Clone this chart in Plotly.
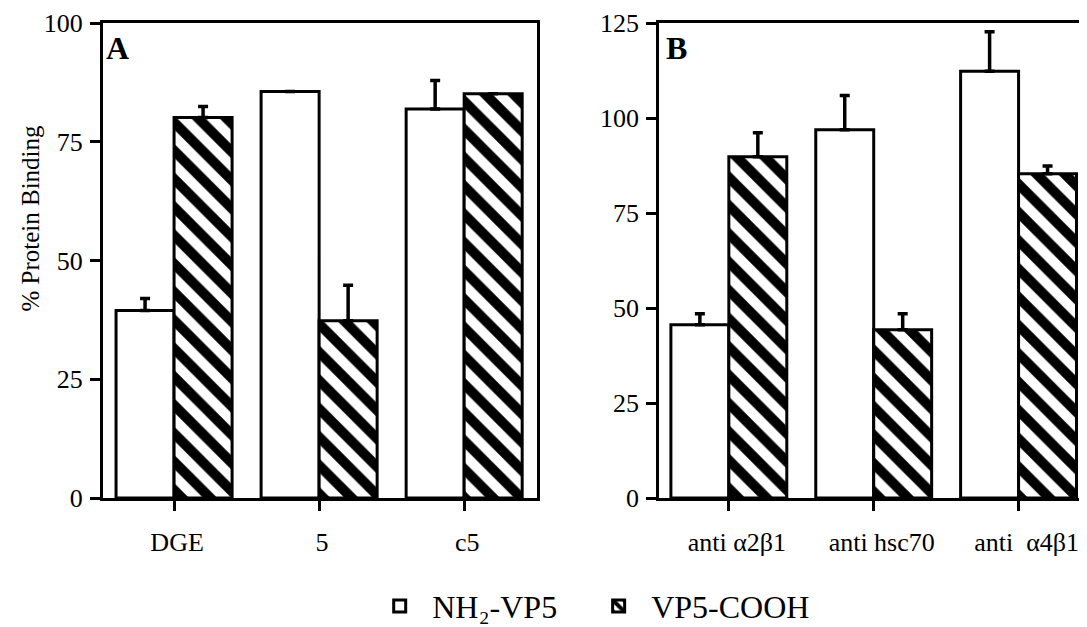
import plotly.graph_objects as go

# ---- data ----
cats_a = ["DGE", "5", "c5"]
cats_b = ["anti \u03b12\u03b21", "anti hsc70", "anti\u00a0 \u03b14\u03b21"]

nh2_a = [39.5, 85.6, 81.9]
nh2_a_err = [2.5, 0, 6.0]
cooh_a = [80.1, 37.3, 85.1]
cooh_a_err = [2.3, 7.5, 0]

nh2_b = [45.6, 96.9, 112.3]
nh2_b_err = [2.9, 9.0, 10.4]
cooh_b = [89.8, 44.3, 85.3]
cooh_b_err = [6.3, 4.2, 2.1]

series_names = ["NH\u2082-VP5\u00a0\u00a0\u00a0", "VP5-COOH"]
yticks_a = [0, 25, 50, 75, 100]
yticks_b = [0, 25, 50, 75, 100, 125]

FONT = "Liberation Serif"
BLACK = "black"

fig = go.Figure()

def add_pair(xref, yref, cats, w_vals, w_err, h_vals, h_err, show):
    xs = list(range(len(cats)))
    fig.add_trace(go.Bar(
        x=xs, y=w_vals, name=series_names[0], legendgroup="w", showlegend=show,
        xaxis=xref, yaxis=yref, offsetgroup="w",
        marker=dict(color="white", line=dict(color=BLACK, width=3)),
        error_y=dict(type="data", symmetric=False, array=w_err, arrayminus=[0]*len(w_err),
                     color=BLACK, thickness=3.5, width=5),
    ))
    fig.add_trace(go.Bar(
        x=xs, y=h_vals, name=series_names[1], legendgroup="h", showlegend=show,
        xaxis=xref, yaxis=yref, offsetgroup="h",
        marker=dict(color="white", line=dict(color=BLACK, width=3),
                    pattern=dict(shape="\\", size=20, solidity=0.5,
                                 fgcolor=BLACK, bgcolor="white", fgopacity=1,
                                 fillmode="overlay")),
        error_y=dict(type="data", symmetric=False, array=h_err, arrayminus=[0]*len(h_err),
                     color=BLACK, thickness=3.5, width=5),
    ))

add_pair("x", "y", cats_a, nh2_a, nh2_a_err, cooh_a, cooh_a_err, True)
add_pair("x2", "y2", cats_b, nh2_b, nh2_b_err, cooh_b, cooh_b_err, False)

L, R, T, B = 95, 1, 15, 133
W, H = 1087, 627
pw = W - L - R
ph = H - T - B

def xd(px0, px1):
    return [(px0 - L) / pw, (px1 - L) / pw]

axis_common = dict(showline=True, linewidth=3, linecolor=BLACK, mirror=True,
                   showgrid=False, zeroline=False, ticks="outside",
                   tickwidth=3, tickcolor=BLACK, ticklen=10,
                   tickfont=dict(family=FONT, size=26, color=BLACK))

fig.update_layout(
    width=W, height=H,
    margin=dict(l=L, r=R, t=T, b=B),
    paper_bgcolor="white", plot_bgcolor="white",
    barmode="group", bargap=0.2, bargroupgap=0,
    font=dict(family=FONT, color=BLACK),
    xaxis=dict(domain=xd(95, 530), range=[-0.49, 2.5], tickvals=[0, 1, 2],
               ticktext=cats_a, ticklabelstandoff=9, ticklabelshift=3, anchor="y",
               **axis_common),
    yaxis=dict(domain=[0, 1], range=[0, 100], tickvals=yticks_a, anchor="x",
               ticklabelstandoff=2, **axis_common),
    xaxis2=dict(domain=xd(653, 1086), range=[-0.48, 2.5], tickvals=[0, 1, 2],
                ticktext=cats_b, ticklabelstandoff=9, ticklabelshift=8, anchor="y2",
                **axis_common),
    yaxis2=dict(domain=[0, 1], range=[0, 125], tickvals=yticks_b, anchor="x2",
                ticklabelstandoff=2, **axis_common),
    legend=dict(orientation="h", x=(360 - L) / pw, xanchor="left",
                y=(494 - 603) / ph, yanchor="middle",
                font=dict(family=FONT, size=32, color=BLACK), bgcolor="rgba(0,0,0,0)",
                itemwidth=55, tracegroupgap=0),
    showlegend=True,
)

fig.add_annotation(text="% Protein Binding", textangle=-90, xref="paper", yref="paper",
                   x=(22 - L) / pw, y=(494 - 212) / ph, xanchor="center", yanchor="middle",
                   showarrow=False, font=dict(family=FONT, size=25, color=BLACK))
fig.add_annotation(text="<b>A</b>", xref="x domain", yref="y domain", x=0.003, y=0.99,
                   xanchor="left", yanchor="top", showarrow=False,
                   font=dict(family=FONT, size=32, color=BLACK))
fig.add_annotation(text="<b>B</b>", xref="x2 domain", yref="y2 domain", x=0.012, y=0.99,
                   xanchor="left", yanchor="top", showarrow=False,
                   font=dict(family=FONT, size=32, color=BLACK))

fig.write_html("out.html")
